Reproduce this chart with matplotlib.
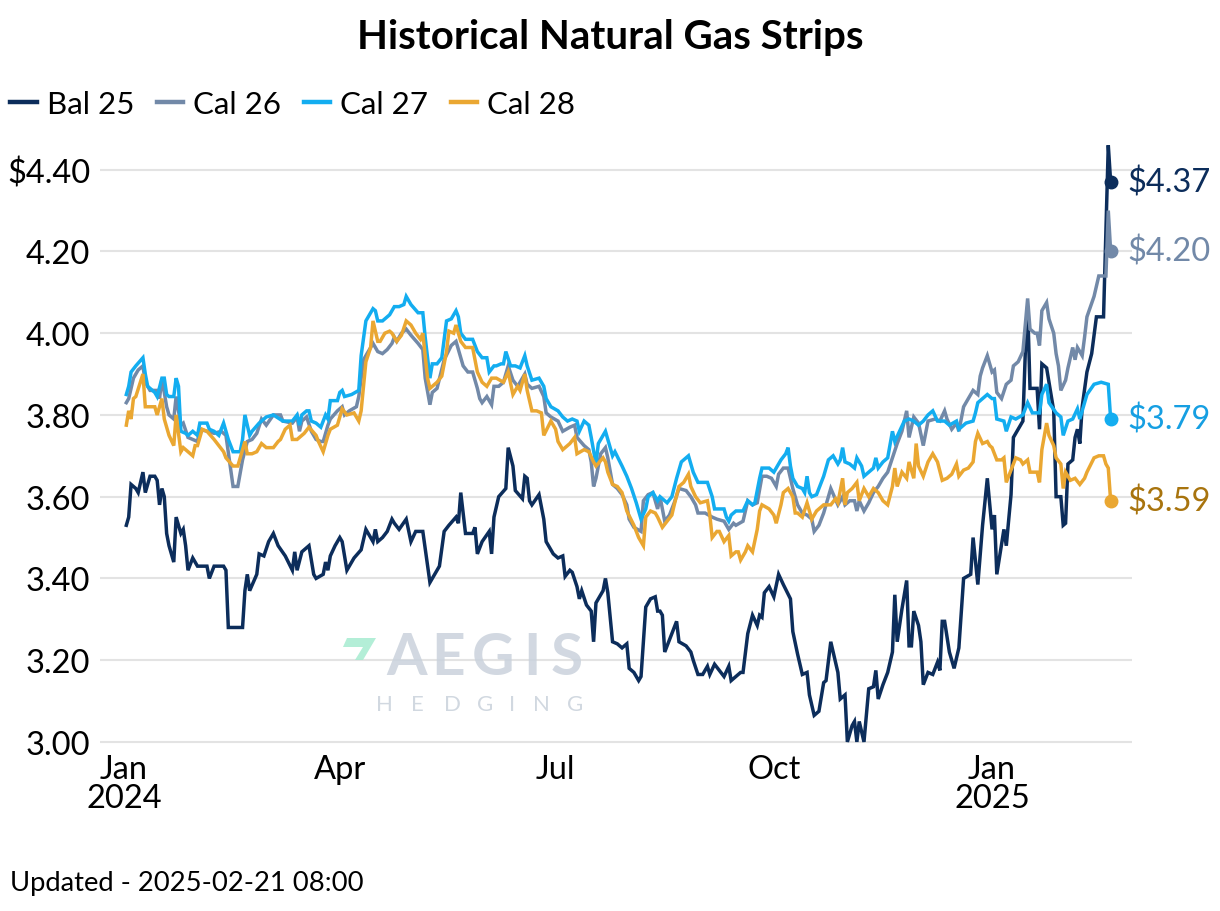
import matplotlib
matplotlib.use("Agg")
import matplotlib.pyplot as plt
import matplotlib.dates as mdates
from matplotlib.patches import Polygon
import pandas as pd

plt.rcParams['font.family'] = ['Lato', 'DejaVu Sans']

BASE = pd.Timestamp('2024-01-01')

# ---- data: day offsets from 2024-01-01 and prices ($/MMBtu) ----
bal25_days = [1, 2, 3, 5, 6, 8, 9, 11, 13, 14, 15, 16, 17, 18, 19, 21, 22, 24, 25, 26, 27, 29, 31, 35, 36, 38, 42, 43, 44, 50,
              51, 52, 53, 56, 57, 59, 61, 63, 65, 68, 71, 72, 73, 75, 78, 80, 81, 84, 85, 86, 87, 89, 91, 92, 94, 97, 100, 102, 104, 105,
              106, 107, 109, 111, 113, 114, 116, 119, 121, 123, 126, 129, 133, 135, 137, 140, 141, 142, 144, 147, 148, 149, 151, 154, 155, 156, 158, 161, 162, 164,
              165, 168, 169, 170, 171, 172, 175, 177, 178, 181, 183, 185, 186, 188, 189, 191, 192, 193, 195, 197, 198, 199, 202, 203, 204, 206, 208, 210, 212, 213,
              215, 217, 218, 220, 222, 224, 225, 226, 227, 228, 230, 233, 234, 237, 239, 240, 242, 244, 246, 247, 249, 251, 253, 255, 256, 258, 260, 261, 263, 265,
              267, 268, 269, 270, 272, 274, 276, 278, 281, 282, 284, 286, 288, 289, 291, 293, 295, 296, 298, 301, 302, 304, 305, 307, 308, 309, 310, 312, 314, 316,
              317, 318, 320, 322, 324, 325, 326, 328, 330, 331, 332, 333, 335, 336, 337, 339, 341, 343, 344, 345, 346, 348, 350, 352, 354, 357, 358, 360, 362, 364,
              366, 367, 368, 371, 372, 374, 375, 379, 380, 381, 382, 385, 386, 387, 389, 392, 393, 395, 396, 397, 398, 400, 401, 402, 403, 404, 406, 408, 410, 413,
              415, 416]
bal25_vals = [3.53, 3.55, 3.63, 3.62, 3.61, 3.66, 3.61, 3.65, 3.65, 3.64, 3.58, 3.62, 3.60, 3.51, 3.48, 3.44, 3.55, 3.51, 3.52, 3.48, 3.42, 3.45, 3.43, 3.43, 3.40, 3.43, 3.43, 3.42, 3.28, 3.28,
              3.37, 3.41, 3.37, 3.41, 3.46, 3.455, 3.49, 3.51, 3.48, 3.455, 3.42, 3.465, 3.42, 3.465, 3.48, 3.41, 3.40, 3.41, 3.44, 3.42, 3.455, 3.48, 3.50, 3.49, 3.42, 3.45, 3.47, 3.52, 3.50, 3.49,
              3.52, 3.49, 3.50, 3.515, 3.545, 3.535, 3.52, 3.545, 3.49, 3.515, 3.515, 3.39, 3.43, 3.515, 3.53, 3.55, 3.535, 3.61, 3.51, 3.51, 3.525, 3.46, 3.49, 3.515, 3.46, 3.55, 3.60, 3.62, 3.72, 3.675,
              3.615, 3.595, 3.65, 3.645, 3.59, 3.58, 3.605, 3.545, 3.49, 3.46, 3.45, 3.455, 3.405, 3.42, 3.415, 3.38, 3.35, 3.37, 3.335, 3.32, 3.245, 3.34, 3.37, 3.40, 3.365, 3.245, 3.24, 3.23, 3.24, 3.18,
              3.17, 3.15, 3.16, 3.33, 3.35, 3.355, 3.32, 3.32, 3.31, 3.22, 3.25, 3.295, 3.245, 3.235, 3.22, 3.20, 3.165, 3.165, 3.185, 3.165, 3.19, 3.175, 3.16, 3.185, 3.15, 3.16, 3.17, 3.17, 3.265, 3.31,
              3.285, 3.31, 3.305, 3.365, 3.38, 3.355, 3.41, 3.385, 3.35, 3.27, 3.215, 3.165, 3.17, 3.115, 3.065, 3.075, 3.145, 3.15, 3.245, 3.17, 3.105, 3.115, 3.00, 3.04, 3.05, 3.00, 3.05, 3.00, 3.13, 3.135,
              3.175, 3.105, 3.14, 3.17, 3.22, 3.36, 3.245, 3.325, 3.395, 3.235, 3.235, 3.32, 3.285, 3.245, 3.14, 3.17, 3.165, 3.195, 3.175, 3.295, 3.295, 3.22, 3.18, 3.23, 3.40, 3.41, 3.50, 3.385, 3.53, 3.645,
              3.52, 3.555, 3.41, 3.52, 3.48, 3.605, 3.745, 3.785, 3.95, 4.065, 3.865, 3.865, 3.765, 3.925, 3.915, 3.81, 3.60, 3.60, 3.53, 3.535, 3.68, 3.69, 3.745, 3.765, 3.73, 3.82, 3.905, 3.95, 4.04, 4.04,
              4.46, 4.37]

cal26_days = [1, 2, 4, 6, 8, 9, 11, 14, 15, 16, 18, 19, 21, 22, 24, 25, 27, 29, 31, 32, 35, 38, 41, 43, 46, 48, 50, 52, 54, 56,
              58, 60, 63, 66, 67, 71, 73, 74, 75, 77, 79, 81, 83, 84, 86, 87, 90, 92, 93, 95, 98, 99, 101, 103, 105, 107, 109, 111, 113, 114,
              115, 117, 119, 121, 124, 126, 127, 129, 130, 132, 135, 138, 140, 141, 143, 145, 147, 149, 150, 151, 153, 155, 156, 158, 160, 162, 164, 166, 168, 169,
              170, 172, 175, 177, 178, 180, 183, 185, 188, 190, 191, 194, 196, 197, 198, 199, 201, 203, 204, 206, 208, 210, 212, 213, 215, 218, 219, 221, 223, 225,
              226, 228, 230, 232, 234, 237, 239, 241, 242, 245, 248, 250, 253, 255, 257, 258, 261, 263, 265, 267, 269, 271, 273, 275, 276, 278, 280, 282, 284, 286,
              288, 290, 291, 293, 295, 297, 298, 301, 303, 304, 306, 308, 309, 310, 312, 314, 316, 318, 320, 322, 324, 326, 328, 330, 331, 333, 335, 337, 339, 342,
              344, 346, 347, 349, 351, 352, 354, 356, 358, 360, 361, 362, 364, 366, 367, 368, 370, 372, 374, 375, 377, 379, 381, 382, 384, 385, 386, 387, 389, 390,
              392, 393, 394, 395, 397, 398, 400, 401, 402, 404, 405, 406, 409, 411, 414, 415, 416]
cal26_vals = [3.83, 3.84, 3.89, 3.91, 3.92, 3.88, 3.86, 3.86, 3.84, 3.89, 3.82, 3.80, 3.79, 3.845, 3.775, 3.78, 3.745, 3.74, 3.735, 3.765, 3.76, 3.755, 3.76, 3.75, 3.625, 3.625, 3.69, 3.735, 3.74, 3.755,
              3.79, 3.775, 3.80, 3.80, 3.785, 3.78, 3.795, 3.76, 3.785, 3.795, 3.76, 3.74, 3.735, 3.735, 3.775, 3.79, 3.81, 3.82, 3.80, 3.81, 3.82, 3.845, 3.935, 3.955, 3.975, 3.955, 3.95, 3.96, 3.975, 3.99,
              3.98, 4.00, 4.01, 3.995, 3.975, 3.96, 3.89, 3.825, 3.855, 3.865, 3.935, 3.97, 3.98, 3.96, 3.92, 3.905, 3.905, 3.865, 3.84, 3.83, 3.845, 3.825, 3.87, 3.87, 3.88, 3.92, 3.885, 3.87, 3.89, 3.90,
              3.875, 3.865, 3.87, 3.845, 3.805, 3.795, 3.785, 3.76, 3.77, 3.775, 3.745, 3.725, 3.715, 3.685, 3.625, 3.645, 3.705, 3.72, 3.695, 3.63, 3.62, 3.605, 3.58, 3.545, 3.525, 3.515, 3.59, 3.605, 3.61, 3.57,
              3.60, 3.54, 3.555, 3.585, 3.62, 3.615, 3.60, 3.58, 3.56, 3.56, 3.55, 3.545, 3.54, 3.52, 3.535, 3.53, 3.54, 3.59, 3.58, 3.585, 3.65, 3.65, 3.645, 3.625, 3.655, 3.67, 3.67, 3.62, 3.58, 3.56,
              3.555, 3.545, 3.515, 3.53, 3.56, 3.60, 3.62, 3.58, 3.60, 3.58, 3.59, 3.59, 3.565, 3.59, 3.565, 3.585, 3.61, 3.625, 3.645, 3.66, 3.695, 3.73, 3.76, 3.81, 3.745, 3.795, 3.78, 3.725, 3.785, 3.79,
              3.785, 3.81, 3.79, 3.765, 3.78, 3.76, 3.82, 3.84, 3.86, 3.85, 3.895, 3.915, 3.945, 3.905, 3.91, 3.855, 3.84, 3.875, 3.885, 3.92, 3.93, 3.955, 4.085, 4.01, 4.00, 4.00, 3.97, 4.055, 4.075, 4.035,
              4.00, 3.95, 3.92, 3.86, 3.885, 3.915, 3.965, 3.935, 3.965, 3.945, 3.99, 4.04, 4.09, 4.14, 4.14, 4.30, 4.20]

cal27_days = [1, 2, 3, 5, 8, 9, 10, 12, 13, 14, 16, 17, 18, 19, 21, 22, 23, 24, 26, 27, 29, 31, 32, 35, 36, 38, 40, 42, 44, 46,
              49, 50, 51, 53, 54, 57, 60, 63, 67, 71, 73, 74, 75, 77, 78, 79, 81, 83, 85, 86, 87, 90, 91, 92, 93, 96, 99, 100, 102, 105,
              106, 107, 109, 112, 114, 116, 118, 119, 121, 124, 126, 127, 129, 130, 132, 134, 136, 138, 140, 141, 142, 144, 147, 149, 151, 153, 154, 156, 157, 159,
              160, 161, 163, 165, 167, 169, 170, 172, 175, 177, 178, 180, 183, 185, 187, 189, 191, 192, 194, 196, 197, 199, 200, 202, 203, 204, 206, 207, 210, 212,
              214, 216, 218, 220, 221, 223, 225, 226, 229, 231, 233, 235, 237, 238, 240, 242, 244, 246, 248, 249, 250, 253, 254, 255, 256, 258, 260, 261, 263, 265,
              266, 268, 269, 272, 274, 275, 277, 279, 280, 281, 282, 284, 286, 287, 288, 289, 290, 292, 295, 297, 299, 301, 302, 303, 304, 306, 308, 309, 311, 312,
              314, 316, 317, 318, 320, 322, 324, 325, 327, 329, 331, 333, 335, 337, 339, 341, 343, 345, 346, 348, 351, 352, 355, 358, 359, 360, 362, 364, 366, 367,
              368, 371, 372, 374, 376, 379, 380, 381, 383, 386, 387, 389, 390, 393, 395, 396, 398, 400, 402, 403, 405, 406, 409, 412, 415, 416]
cal27_vals = [3.85, 3.87, 3.905, 3.92, 3.94, 3.90, 3.87, 3.86, 3.855, 3.845, 3.89, 3.89, 3.85, 3.845, 3.845, 3.89, 3.87, 3.76, 3.755, 3.75, 3.76, 3.75, 3.78, 3.78, 3.765, 3.76, 3.75, 3.78, 3.74, 3.71,
              3.71, 3.74, 3.80, 3.75, 3.76, 3.78, 3.795, 3.80, 3.785, 3.785, 3.80, 3.775, 3.80, 3.81, 3.81, 3.785, 3.78, 3.77, 3.80, 3.79, 3.835, 3.835, 3.855, 3.86, 3.845, 3.85, 3.86, 3.945, 4.03, 4.06,
              4.055, 4.03, 4.03, 4.045, 4.065, 4.065, 4.07, 4.09, 4.07, 4.05, 4.05, 3.99, 3.89, 3.925, 3.925, 3.94, 4.03, 4.035, 4.055, 4.04, 4.00, 3.985, 3.985, 3.955, 3.94, 3.94, 3.905, 3.92, 3.92, 3.925,
              3.925, 3.955, 3.92, 3.92, 3.915, 3.945, 3.92, 3.885, 3.89, 3.87, 3.84, 3.82, 3.81, 3.795, 3.785, 3.79, 3.785, 3.76, 3.785, 3.775, 3.745, 3.68, 3.73, 3.75, 3.76, 3.74, 3.70, 3.71, 3.675, 3.65,
              3.62, 3.585, 3.545, 3.57, 3.60, 3.61, 3.59, 3.60, 3.585, 3.60, 3.645, 3.685, 3.695, 3.70, 3.66, 3.635, 3.635, 3.635, 3.60, 3.57, 3.57, 3.57, 3.55, 3.54, 3.555, 3.565, 3.565, 3.565, 3.59, 3.58,
              3.585, 3.645, 3.67, 3.67, 3.66, 3.67, 3.69, 3.705, 3.72, 3.675, 3.645, 3.625, 3.62, 3.61, 3.65, 3.61, 3.60, 3.605, 3.65, 3.69, 3.70, 3.68, 3.69, 3.72, 3.685, 3.68, 3.67, 3.695, 3.675, 3.65,
              3.66, 3.67, 3.695, 3.67, 3.685, 3.695, 3.76, 3.735, 3.76, 3.785, 3.79, 3.785, 3.775, 3.785, 3.80, 3.81, 3.785, 3.785, 3.785, 3.775, 3.785, 3.765, 3.78, 3.785, 3.805, 3.83, 3.84, 3.85, 3.84, 3.84,
              3.79, 3.785, 3.76, 3.795, 3.79, 3.80, 3.815, 3.83, 3.805, 3.805, 3.85, 3.875, 3.83, 3.805, 3.795, 3.75, 3.785, 3.79, 3.815, 3.79, 3.83, 3.85, 3.875, 3.88, 3.875, 3.79]

cal28_days = [1, 2, 3, 4, 5, 8, 9, 11, 13, 14, 16, 17, 19, 21, 22, 24, 25, 27, 29, 30, 31, 33, 35, 38, 40, 42, 43, 46, 48, 51,
              52, 54, 56, 58, 60, 63, 65, 66, 68, 70, 71, 73, 76, 78, 81, 82, 84, 86, 87, 90, 92, 94, 97, 99, 100, 102, 104, 105, 107, 108,
              110, 112, 113, 115, 117, 119, 121, 123, 125, 126, 128, 129, 132, 134, 136, 137, 139, 140, 142, 144, 147, 149, 151, 153, 155, 157, 160, 162, 164, 166,
              167, 169, 170, 172, 174, 176, 177, 180, 182, 183, 185, 188, 190, 191, 194, 196, 198, 199, 202, 203, 204, 206, 208, 210, 212, 215, 217, 219, 220, 222,
              224, 225, 227, 229, 231, 232, 234, 236, 238, 239, 241, 243, 246, 247, 248, 250, 251, 253, 255, 256, 258, 259, 260, 262, 263, 265, 267, 268, 269, 272,
              274, 275, 277, 278, 280, 282, 283, 284, 286, 288, 289, 290, 292, 295, 298, 300, 301, 303, 304, 305, 307, 309, 310, 312, 314, 316, 318, 320, 322, 324,
              325, 326, 328, 330, 331, 333, 334, 335, 337, 339, 341, 343, 345, 347, 349, 351, 352, 354, 356, 358, 359, 360, 362, 364, 365, 366, 368, 370, 371, 372,
              374, 376, 378, 379, 381, 382, 384, 385, 386, 387, 389, 390, 392, 393, 395, 396, 397, 399, 401, 403, 405, 406, 409, 411, 413, 414, 415, 416]
cal28_vals = [3.775, 3.81, 3.79, 3.84, 3.845, 3.90, 3.82, 3.82, 3.82, 3.80, 3.84, 3.79, 3.75, 3.725, 3.80, 3.71, 3.72, 3.71, 3.70, 3.725, 3.725, 3.765, 3.76, 3.74, 3.725, 3.71, 3.695, 3.675, 3.675, 3.735,
              3.705, 3.705, 3.71, 3.73, 3.72, 3.72, 3.735, 3.74, 3.765, 3.775, 3.74, 3.74, 3.755, 3.77, 3.75, 3.735, 3.71, 3.75, 3.765, 3.775, 3.815, 3.80, 3.805, 3.785, 3.81, 3.93, 3.965, 4.03, 3.98, 3.98,
              4.00, 4.005, 4.00, 3.98, 3.995, 4.03, 4.02, 4.00, 3.985, 4.00, 3.89, 3.865, 3.88, 3.895, 3.955, 4.005, 4.00, 4.02, 3.98, 3.965, 3.965, 3.905, 3.88, 3.87, 3.89, 3.89, 3.88, 3.905, 3.85, 3.87,
              3.86, 3.90, 3.86, 3.81, 3.81, 3.805, 3.75, 3.785, 3.765, 3.735, 3.715, 3.73, 3.745, 3.705, 3.715, 3.71, 3.685, 3.675, 3.695, 3.685, 3.66, 3.63, 3.625, 3.61, 3.565, 3.53, 3.50, 3.48, 3.55, 3.565,
              3.56, 3.55, 3.525, 3.54, 3.555, 3.58, 3.625, 3.635, 3.655, 3.625, 3.60, 3.585, 3.59, 3.555, 3.50, 3.515, 3.515, 3.49, 3.505, 3.455, 3.465, 3.465, 3.445, 3.465, 3.48, 3.465, 3.52, 3.565, 3.58, 3.57,
              3.555, 3.535, 3.58, 3.61, 3.62, 3.60, 3.56, 3.56, 3.55, 3.585, 3.565, 3.545, 3.565, 3.58, 3.58, 3.595, 3.585, 3.645, 3.58, 3.61, 3.62, 3.635, 3.59, 3.62, 3.60, 3.62, 3.61, 3.59, 3.58, 3.625,
              3.67, 3.625, 3.66, 3.645, 3.685, 3.645, 3.73, 3.675, 3.65, 3.685, 3.705, 3.685, 3.64, 3.645, 3.655, 3.68, 3.65, 3.665, 3.67, 3.685, 3.735, 3.755, 3.73, 3.735, 3.725, 3.72, 3.69, 3.69, 3.695, 3.635,
              3.665, 3.695, 3.69, 3.68, 3.69, 3.66, 3.66, 3.66, 3.635, 3.715, 3.78, 3.75, 3.725, 3.695, 3.68, 3.62, 3.66, 3.64, 3.645, 3.63, 3.645, 3.66, 3.695, 3.70, 3.70, 3.68, 3.67, 3.59]

series_names = ['Bal 25', 'Cal 26', 'Cal 27', 'Cal 28']
series_days = [bal25_days, cal26_days, cal27_days, cal28_days]
series_vals = [bal25_vals, cal26_vals, cal27_vals, cal28_vals]
line_colors = ['#0c2d5b', '#7289a8', '#13adf0', '#eaa732']
label_colors = ['#0c2d5b', '#7289a8', '#169fe2', '#a8740e']

y_ticks = [3.00, 3.20, 3.40, 3.60, 3.80, 4.00, 4.20, 4.40]
x_tick_dates = ['2024-01-01', '2024-04-01', '2024-07-01', '2024-10-01', '2025-01-01']
x_tick_labels = ['Jan\n2024', 'Apr', 'Jul', 'Oct', 'Jan\n2025']

W, H = 1220, 912
fig = plt.figure(figsize=(W / 100, H / 100), dpi=100)
ax = fig.add_axes([100 / W, (H - 747) / H, 1032 / W, 609 / H])

for name, d, v, c in zip(series_names, series_days, series_vals, line_colors):
    dates = BASE + pd.to_timedelta(d, unit='D')
    ax.plot(dates, v, color=c, lw=2.5, label=name, zorder=3, solid_joinstyle='miter')

for d, v, c, lc in zip(series_days, series_vals, line_colors, label_colors):
    last_date = BASE + pd.Timedelta(days=d[-1])
    ax.plot([last_date], [v[-1]], 'o', color=c, ms=9, zorder=4)
    ax.annotate(f"${v[-1]:.2f}", xy=(last_date, v[-1]), xytext=(17, 0),
                textcoords='offset pixels', va='center', ha='left',
                fontsize=23.5, color=lc, annotation_clip=False)

ax.set_xlim(mdates.date2num(BASE - pd.Timedelta(days=10.1)),
            mdates.date2num(BASE + pd.Timedelta(days=425)))
ax.set_ylim(2.99, 4.48)

ax.set_yticks(y_ticks)
ax.set_yticklabels([f"${t:.2f}" if t == max(y_ticks) else f"{t:.2f}" for t in y_ticks])
ax.set_xticks([mdates.date2num(pd.Timestamp(s)) for s in x_tick_dates])
ax.set_xticklabels(x_tick_labels)
for lbl in ax.get_xticklabels():
    lbl.set_linespacing(0.95)

ax.tick_params(axis='both', length=0, labelsize=23.5, colors='black')
ax.tick_params(axis='y', pad=7)
ax.tick_params(axis='x', pad=6)
ax.grid(axis='y', color='#e3e3e3', lw=1.5, zorder=0)
ax.grid(axis='x', visible=False)
for s in ax.spines.values():
    s.set_visible(False)

# watermark (logo)
for ch, xc in zip('AEGIS', [407, 448, 493, 532, 567]):
    fig.text(xc / W, 1 - 659 / H, ch, fontsize=42, fontweight='bold', color='#cad2dc',
             ha='center', va='center', alpha=0.85, zorder=1)
for ch, xc in zip('HEDGING', [384, 417, 452, 485, 512, 541, 575]):
    fig.text(xc / W, 1 - 705 / H, ch, fontsize=16, color='#ccd4dd', ha='center', va='center',
             alpha=0.9, zorder=1)
poly_px = [(347, 639), (376, 639), (363, 661), (355, 661), (363, 648), (343, 648)]
fig.patches.append(Polygon([(x / W, 1 - y / H) for x, y in poly_px], closed=True,
                           transform=fig.transFigure, facecolor='#a6ecd0', edgecolor='none', alpha=0.85))

fig.text(0.5, 1 - 37 / H, 'Historical Natural Gas Strips', fontsize=29, fontweight='bold',
         ha='center', va='center')

fig.legend(loc='center left', bbox_to_anchor=(10 / W, 1 - 105 / H), ncol=4, frameon=False,
           fontsize=22.5, handlelength=0.85, handletextpad=0.32, columnspacing=0.72,
           borderpad=0, borderaxespad=0)
for line in fig.legends[0].get_lines():
    line.set_linewidth(3.2)

fig.text(10 / W, 1 - 884 / H, 'Updated - 2025-02-21 08:00', fontsize=19.75, ha='left', va='center')

fig.savefig('out.png', dpi=100)
